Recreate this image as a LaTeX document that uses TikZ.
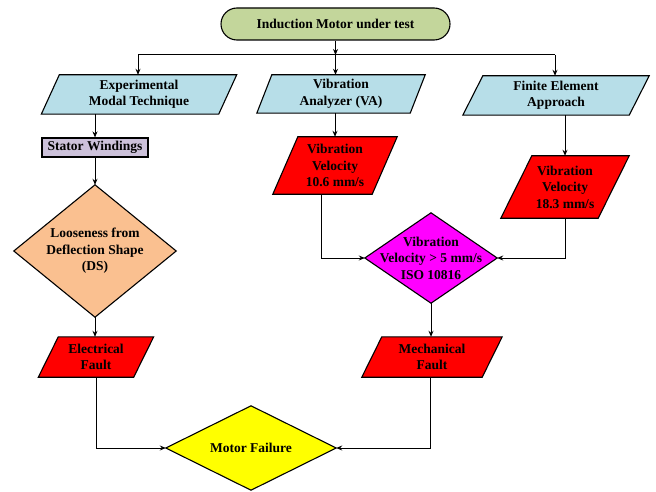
\documentclass[tikz,border=0pt]{standalone}
\usepackage{fontspec}
\setmainfont{Liberation Serif}
\usetikzlibrary{arrows.meta,backgrounds}
\definecolor{topgreen}{HTML}{C3D69B}
\definecolor{lblue}{HTML}{B7DEE8}
\definecolor{lav}{HTML}{CCC1DA}
\definecolor{peach}{HTML}{FAC090}
\definecolor{myred}{HTML}{FF0000}
\definecolor{mymag}{HTML}{FF00FF}
\definecolor{myyel}{HTML}{FFFF00}
\newcommand{\paragram}[3]{%
  \begin{scope}[on background layer]
    \draw[shapeline, fill=#3] ([xshift=#2]#1.north west) -- ([xshift=#2]#1.north east) -- ([xshift=-#2]#1.south east) -- ([xshift=-#2]#1.south west) -- cycle;
  \end{scope}}
\newcommand{\diamondbg}[2]{%
  \begin{scope}[on background layer]
    \draw[shapeline, fill=#2] (#1.north) -- (#1.east) -- (#1.south) -- (#1.west) -- cycle;
  \end{scope}}
\begin{document}
\begin{tikzpicture}[x=1pt,y=-1pt,
  txt/.style={inner sep=0pt, align=center, font=\fontsize{13.5}{16.5}\selectfont\bfseries},
  shapeline/.style={draw=black, line width=1.1pt, line join=miter},
  conn/.style={line width=1pt},
  arr/.style={conn, -{Stealth[length=6pt,width=5pt]}}]
\useasboundingbox (0,0) rectangle (656,492);

\node[txt, minimum width=229pt, minimum height=32pt, draw, fill=topgreen, rounded corners=16pt, line width=1.1pt] (top) at (335.5,24) {Induction Motor under test};

\node[txt, minimum width=177pt, minimum height=39pt] (exp) at (139,94.5) {Experimental\\Modal Technique};
\paragram{exp}{9pt}{lblue}
\node[txt, minimum width=153pt, minimum height=38pt] (va) at (341,94) {Vibration\\Analyzer (VA)};
\paragram{va}{7.5pt}{lblue}
\node[txt, minimum width=166pt, minimum height=39pt] (fe) at (556,95.5) {Finite Element\\Approach};
\paragram{fe}{10pt}{lblue}
\node[txt, minimum width=106pt, minimum height=19pt, draw, fill=lav, line width=1.1pt] (stator) at (95,147.5) {Stator Windings};
\node[txt, minimum width=162pt, minimum height=132pt] (loose) at (95,251) {Looseness from\\Deflection Shape\\(DS)};
\diamondbg{loose}{peach}
\node[txt, minimum width=99pt, minimum height=57pt] (vared) at (335,165.5) {Vibration\\Velocity\\10.6 mm/s};
\paragram{vared}{12.5pt}{myred}
\node[txt, minimum width=97pt, minimum height=62pt] (fered) at (565,187) {Vibration\\Velocity\\18.3 mm/s};
\paragram{fered}{15.5pt}{myred}
\node[txt, minimum width=132pt, minimum height=90pt] (mag) at (431,258) {Vibration\\Velocity > 5 mm/s\\ISO 10816};
\diamondbg{mag}{mymag}
\node[txt, minimum width=95pt, minimum height=40pt] (elec) at (96,357) {Electrical\\Fault};
\paragram{elec}{10pt}{myred}
\node[txt, minimum width=120pt, minimum height=40pt] (mech) at (432,357) {Mechanical\\Fault};
\paragram{mech}{10pt}{myred}
\node[txt, minimum width=170pt, minimum height=84pt] (motor) at (251,448) {Motor Failure};
\diamondbg{motor}{myyel}

\coordinate (j) at (335.5,55);
\coordinate (jl) at (138,55);
\coordinate (jr) at (555,55);
\draw[conn] (jl) -- (jr);
\draw[arr] (top.south) -- (j);
\draw[arr] (j) -- (j |- va.north);
\draw[arr] (jl) -- (jl |- exp.north);
\draw[arr] (jr) -- (jr |- fe.north);
\draw[arr] (stator.north |- exp.south) -- (stator.north);
\draw[arr] (stator.south) -- (loose.north);
\draw[arr] (loose.south) -- (loose.south |- elec.north);
\draw[arr] (elec.south) |- (motor.west);
\draw[arr] (vared.north |- va.south) -- (vared.north);
\draw[arr] ([xshift=-14pt]vared.south) |- (mag.west);
\draw[arr] (fered.north |- fe.south) -- (fered.north);
\draw[arr] (fered.south) |- (mag.east);
\draw[arr] (mag.south) -- (mag.south |- mech.north);
\draw[arr] ([xshift=-2pt]mech.south) |- (motor.east);
\end{tikzpicture}
\end{document}
